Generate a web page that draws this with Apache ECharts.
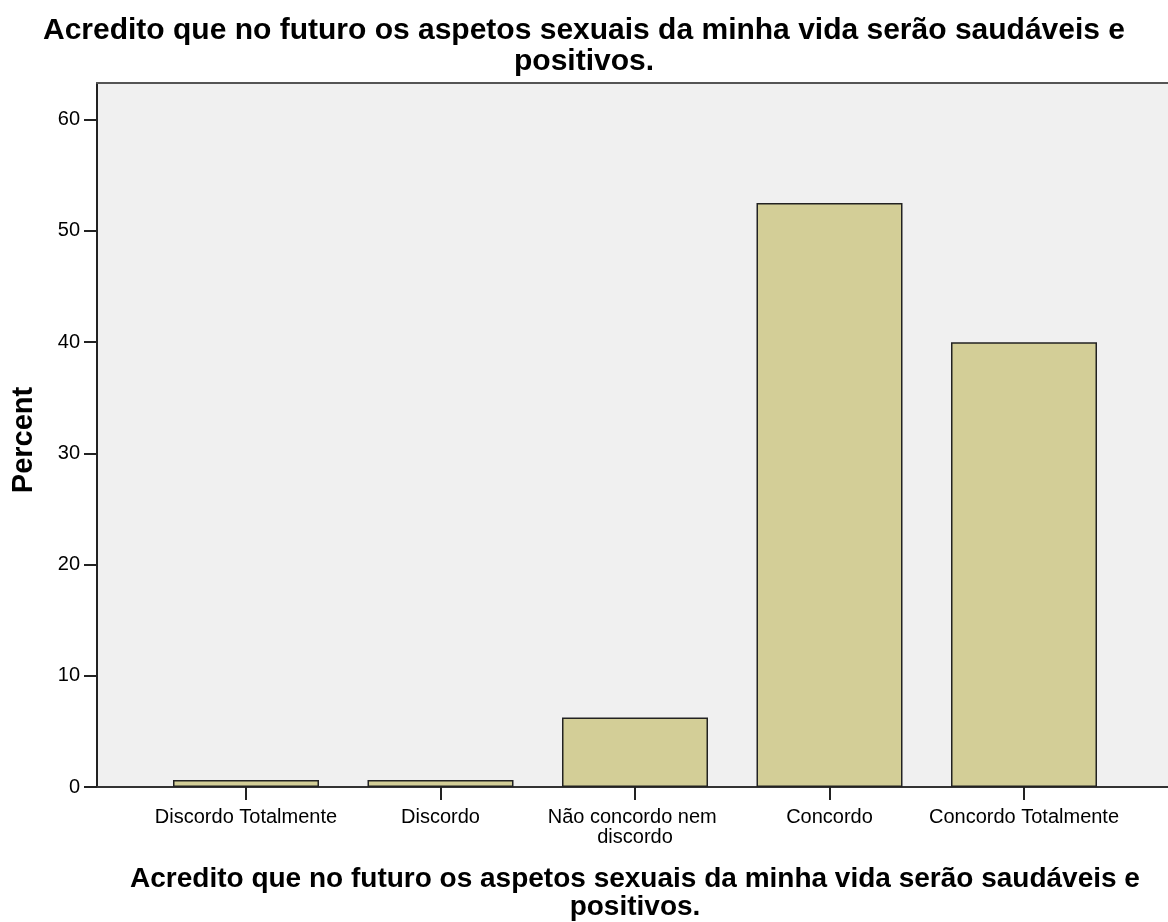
<!DOCTYPE html>
<html>
<head>
<meta charset="utf-8">
<title>Acredito que no futuro</title>
<script src="https://cdn.jsdelivr.net/npm/echarts@6/dist/echarts.min.js"></script>
<style>
  html, body { margin: 0; padding: 0; background: #fff; }
  #chart1 { width: 1168px; height: 922px; }
</style>
</head>
<body>
<div id="chart1"></div>
<script>
// dados
var categorias = ['Discordo Totalmente', 'Discordo', 'Não concordo nem discordo', 'Concordo', 'Concordo Totalmente'];
var percent = [0.625, 0.625, 6.25, 52.5, 40.0];
var yTicks = [0, 10, 20, 30, 40, 50, 60];
var titulo = 'Acredito que no futuro os aspetos sexuais da minha vida serão saudáveis e\npositivos.';

var font = 'Liberation Sans, Arial, sans-serif';
var myChart = echarts.init(document.getElementById('chart1'));

myChart.setOption({
    backgroundColor: '#ffffff',
    animation: false,
    title: {
        text: titulo,
        left: 'center',
        top: 10,
        textStyle: { fontFamily: font, fontSize: 30, fontWeight: 'bold', color: '#000', lineHeight: 31 }
    },
    graphic: [{
        type: 'text',
        x: 24, y: 440,
        rotation: Math.PI / 2,
        style: {
            text: 'Percent', fontFamily: font, fontSize: 29, fontWeight: 'bold',
            fill: '#000', align: 'center', verticalAlign: 'middle'
        }
    }],
    grid: [
        { left: 97, top: 83, right: 0, bottom: 135, show: true, backgroundColor: '#f0f0f0',
          borderWidth: 0, outerBoundsMode: 'none' },
        { left: 148.75, top: 83, right: 46.75, bottom: 135, outerBoundsMode: 'none' }
    ],
    xAxis: [
        { gridIndex: 0, type: 'value', min: 0, max: 1, position: 'bottom',
          axisLine: { show: true, lineStyle: { color: '#333', width: 2 } },
          axisTick: { show: false }, axisLabel: { show: false }, splitLine: { show: false } },
        { gridIndex: 0, type: 'value', min: 0, max: 1, position: 'top',
          axisLine: { show: true, lineStyle: { color: '#555', width: 2 } },
          axisTick: { show: false }, axisLabel: { show: false }, splitLine: { show: false } },
        { gridIndex: 1, type: 'category', data: categorias,
          axisLine: { show: false },
          axisTick: { show: true, alignWithLabel: true, length: 13, lineStyle: { color: '#222', width: 2 } },
          axisLabel: { fontFamily: font, fontSize: 20, color: '#000', margin: 20, width: 215,
                       overflow: 'break', lineHeight: 20, interval: 0 },
          name: titulo, nameLocation: 'middle', nameGap: 78,
          nameTextStyle: { fontFamily: font, fontSize: 28, fontWeight: 'bold', color: '#000', lineHeight: 28 } }
    ],
    yAxis: [
        { gridIndex: 0, type: 'value', min: 0, max: 63.3, interval: 10,
          axisLine: { show: true, lineStyle: { color: '#222', width: 2 } },
          axisTick: { show: true, length: 13, customValues: yTicks, lineStyle: { color: '#222', width: 2 } },
          axisLabel: { fontFamily: font, fontSize: 20, color: '#000', margin: 17, customValues: yTicks },
          splitLine: { show: false } },
        { gridIndex: 1, type: 'value', min: 0, max: 63.3, show: false, splitLine: { show: false } }
    ],
    series: [{
        name: 'Percent',
        type: 'bar',
        xAxisIndex: 2,
        yAxisIndex: 1,
        data: percent,
        barWidth: 146,
        itemStyle: { color: '#d3ce97', borderColor: '#222', borderWidth: 1.5 }
    }]
});
</script>
</body>
</html>
